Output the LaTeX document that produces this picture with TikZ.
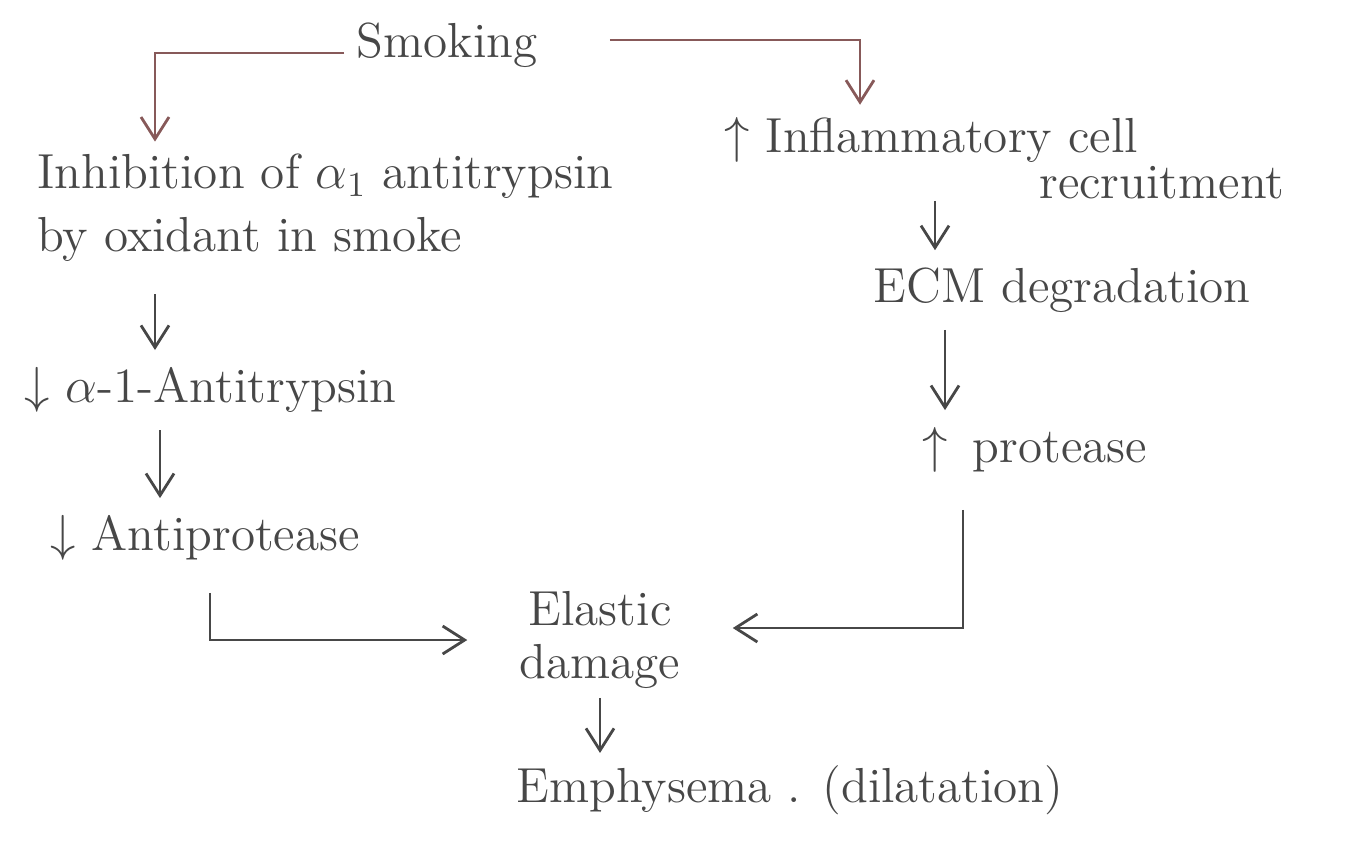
\documentclass[tikz,border=0pt]{standalone}
\usepackage{amsmath,amssymb}
\usetikzlibrary{arrows.meta, positioning, calc}
\colorlet{pencil}{black!72}
\colorlet{pencillight}{black!40!red!30!gray}

\begin{document}
\begin{tikzpicture}[x=0.1mm, y=-0.1mm, >={Straight Barb[length=2.2mm, width=2.8mm]},
  every node/.style={font=\fontsize{14}{18}\selectfont, text=pencil},
  flow/.style={->, draw=pencil, line width=0.8pt}]
\useasboundingbox (0,0) rectangle (1368,850);
% left branch
\node (smoke)  at (447,45) {Smoking};
\node[anchor=west, align=left] (inhib) at (25,208) {Inhibition of $\alpha_1$ antitrypsin\\by oxidant in smoke};
\node[anchor=west] (alpha) at (12,390) {$\downarrow$ $\alpha$-1-Antitrypsin};
\node[anchor=west] (anti)  at (38,538) {$\downarrow$ Antiprotease};
% right branch
\node[anchor=base west, align=left, font=\fontsize{14}{11}\selectfont] (inflam) at (712,198)
  {$\uparrow$ Inflammatory cell\\\hspace*{6.4em}recruitment};
\node (ecm)  at (1062,290) {ECM degradation};
\node (prot) at (1035,450) {$\uparrow$\enspace protease};
% bottom
\node[align=center, font=\fontsize{14}{15}\selectfont] (elastic) at (600,640) {Elastic\\damage};
\node (emph) at (790,790) {Emphysema . (dilatation)};
% columns of the vertical arrows
\coordinate (lcol) at (155,0);
\coordinate (rcol) at (860,0);
\draw[flow, draw=pencillight] ($(smoke.west)+(0,8)$) -| (inhib.north -| lcol);
\draw[flow, draw=pencillight] ($(smoke.east)+(60,-5)$) -| (inflam.north -| rcol);
\draw[flow] ($(inhib.south -| lcol)+(0,20)$) -- ($(alpha.north -| lcol)+(0,-5)$);
\draw[flow] ($(alpha.south -| lcol)+(5,5)$) -- ($(anti.north -| lcol)+(5,-5)$);
\draw[flow] ($(inflam.south -| rcol)+(75,-10)$) -- ($(ecm.north -| rcol)+(75,-5)$);
\draw[flow] ($(ecm.south -| rcol)+(85,5)$) -- ($(prot.north -| rcol)+(85,-5)$);
\draw[flow] ($(anti.south -| lcol)+(55,20)$) |- ($(elastic.west)+(-40,0)$);
\draw[flow] ($(prot.south -| rcol)+(103,25)$) |- ($(elastic.east)+(40,-12)$);
\draw[flow] ($(elastic.south)+(0,-3)$) -- ($(emph.north -| elastic)+(0,0)$);
\end{tikzpicture}
\end{document}
